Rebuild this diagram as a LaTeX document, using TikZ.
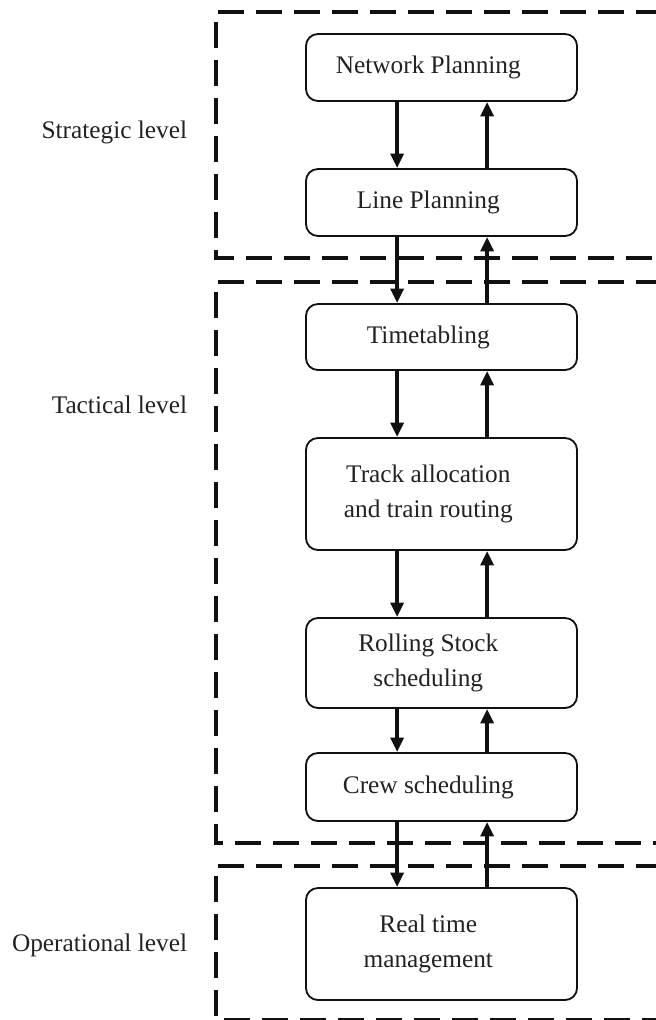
\documentclass[tikz,border=0pt]{standalone}
\usepackage{fontspec}
\setmainfont{Liberation Serif}
\usetikzlibrary{arrows.meta}
\definecolor{ink}{HTML}{111111}
\definecolor{words}{HTML}{222222}
\tikzset{
  box/.style={draw=ink, rounded corners=0.3cm, line width=1.3pt,
              minimum width=6.775cm, inner sep=0pt},
  boxtext/.style={font=\fontsize{18}{25.5}\selectfont, text=words, align=center,
                  xshift=-0.33cm},
  flow/.style={-{Triangle[length=0.36cm,width=0.32cm]}, line width=2.8pt, draw=ink},
  frame/.style={draw=ink, line width=3pt, dash pattern=on 0.65cm off 0.3cm},
  level/.style={font=\fontsize{18}{22}\selectfont, text=words, anchor=east}
}

\begin{document}
\begin{tikzpicture}[x=0.025cm,y=-0.025cm]
  \clip (0,0) rectangle (656,1020);
  \fill[white] (0,0) rectangle (656,1020);
  % planning stages
  \node[box, minimum height=1.675cm, label={[boxtext]center:Network Planning}] (np) at (441.5,67.5) {};
  \node[box, minimum height=1.675cm, label={[boxtext]center:Line Planning}] (lp) at (441.5,202.5) {};
  \node[box, minimum height=1.65cm, label={[boxtext]center:Timetabling}] (tt) at (441.5,337) {};
  \node[box, minimum height=2.8cm, label={[boxtext]center:Track allocation\\and train routing}] (ta) at (441.5,494) {};
  \node[box, minimum height=2.25cm, label={[boxtext]center:Rolling Stock\\scheduling}] (rs) at (441.5,663) {};
  \node[box, minimum height=1.7cm, label={[boxtext]center:Crew scheduling}] (cs) at (441.5,787) {};
  \node[box, minimum height=2.8cm, label={[boxtext]center:Real time\\management}] (rt) at (441.5,944) {};
  % arrows down and up between stages
  \foreach \a/\b in {np/lp,lp/tt,tt/ta,ta/rs,rs/cs,cs/rt} {
    \draw[flow] ([xshift=-1.11cm]\a.south) -- ([xshift=-1.11cm]\b.north);
    \draw[flow] ([xshift=1.14cm]\b.north) -- ([xshift=1.14cm]\a.south);
  }
  % level frames, open to the right
  \draw[frame] (700,12) -| (216,258) -- (700,258);
  \draw[frame] (700,282) -| (216,843) -- (700,843);
  \draw[frame] (700,866) -| (216,1020) -- (700,1020);
  % level names
  \node[level] (strat) at (192,132) {Strategic level};
  \node[level] (tact) at (192,405) {Tactical level};
  \node[level] (oper) at (192,945) {Operational level};
\end{tikzpicture}
\end{document}
